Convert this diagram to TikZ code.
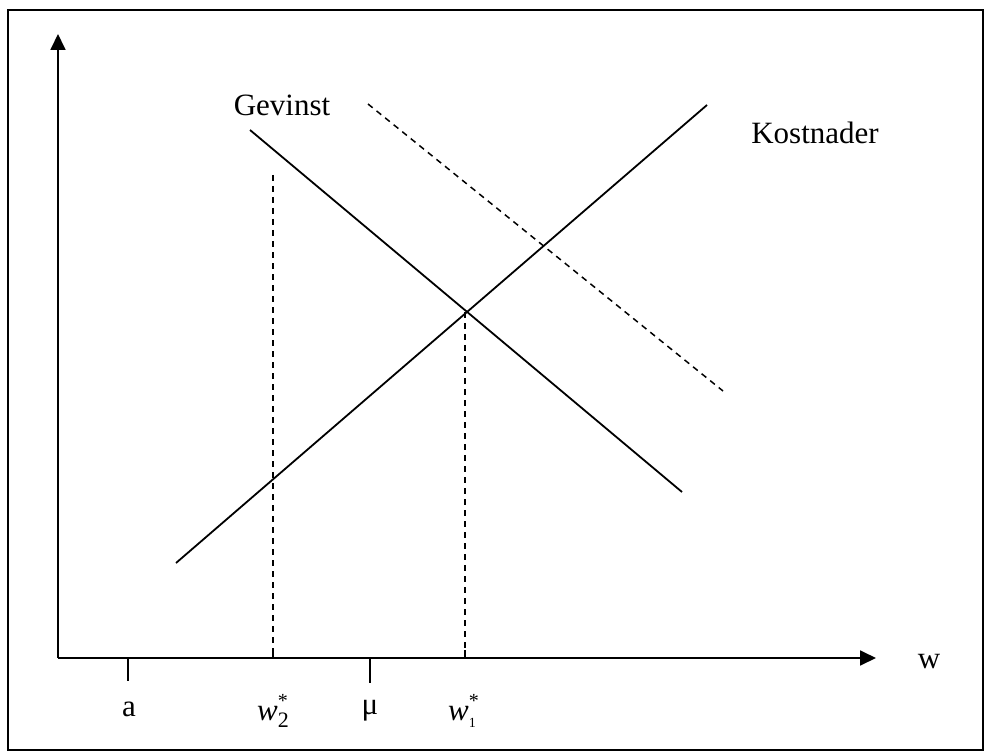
\documentclass[tikz,border=0pt]{standalone}
\usepackage{fontspec}
\setmainfont{Liberation Serif}
\usetikzlibrary{arrows.meta}
\newcommand{\wstar}[2]{\textit{w}\makebox[0pt][l]{\raisebox{13pt}{\fontsize{20}{20}\selectfont *}}\raisebox{-7pt}{\fontsize{#2}{20}\selectfont #1}}
\begin{document}
\begin{tikzpicture}[x=1pt,y=-1pt,
  ln/.style={line width=1.8pt},
  dsh/.style={line width=1.5pt,dash pattern=on 6pt off 5pt},
  ax/.style={line width=1.8pt,-{Triangle[length=16pt,width=15pt]}},
  lbl/.style={font=\fontsize{31}{36}\selectfont,inner sep=0pt}]
\useasboundingbox (0,0) rectangle (984,751);
\draw[line width=1.2pt] (8,10) rectangle (983,750);
% axes
\coordinate (O) at (58,658);
\coordinate (Y) at (58,34);
\coordinate (X) at (876,658);
\draw[ax] (O) -- (Y);
\draw[ax] (O) -- (X);
% lines
\coordinate (g1) at (250,130);
\coordinate (g2) at (682,492);
\coordinate (k1) at (176,563);
\coordinate (k2) at (707,105);
\coordinate (d1) at (368,104);
\coordinate (d2) at (723,391);
\draw[ln] (g1) -- (g2);
\draw[ln] (k1) -- (k2);
\draw[dsh] (d1) -- (d2);
% dashed verticals
\coordinate (v2t) at (273,175);
\coordinate (v2b) at (273,658);
\coordinate (v1t) at (465,312);
\coordinate (v1b) at (465,658);
\draw[dsh] (v2t) -- (v2b);
\draw[dsh] (v1t) -- (v1b);
% ticks
\coordinate (ta1) at (128,658);
\coordinate (ta2) at (128,681);
\coordinate (tm1) at (370,658);
\coordinate (tm2) at (370,683);
\draw[ln] (ta1) -- (ta2);
\draw[ln] (tm1) -- (tm2);
\draw[ln] (273,650) -- (273,658);
\draw[ln] (465,650) -- (465,658);
% labels
\node[lbl] (gev) at (282,105) {Gevinst};
\node[lbl] (kost) at (815,133) {Kostnader};
\node[lbl] (w) at (929,662) {w};
\node[lbl] (a) at (129,709) {a};
\node[lbl] (mu) at (370,711) {μ};
\node[lbl,anchor=base west] (w2) at (257,720) {\wstar{2}{22}};
\node[lbl,anchor=base west] (w1) at (448,720) {\wstar{1}{14}};
\end{tikzpicture}
\end{document}
